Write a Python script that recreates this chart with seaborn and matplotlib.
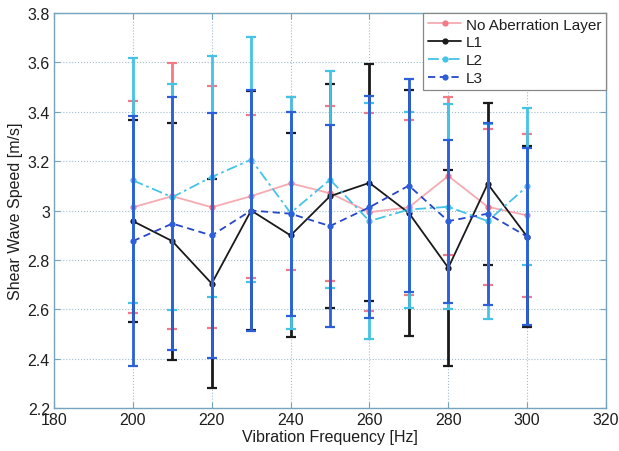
import matplotlib
matplotlib.use("Agg")
import matplotlib.pyplot as plt
import seaborn as sns
import pandas as pd

freq = [200, 210, 220, 230, 240, 250, 260, 270, 280, 290, 300]

no_ab = [3.013, 3.058, 3.013, 3.058, 3.110, 3.070, 2.993, 3.013, 3.140, 3.015, 2.980]
no_ab_err = [0.43, 0.54, 0.49, 0.33, 0.35, 0.355, 0.40, 0.355, 0.32, 0.315, 0.33]

l1 = [2.957, 2.876, 2.704, 3.000, 2.899, 3.058, 3.112, 2.990, 2.768, 3.108, 2.894]
l1_err = [0.41, 0.48, 0.425, 0.485, 0.413, 0.453, 0.48, 0.497, 0.398, 0.329, 0.367]

l2 = [3.122, 3.054, 3.136, 3.206, 2.990, 3.125, 2.957, 3.004, 3.015, 2.957, 3.098]
l2_err = [0.496, 0.458, 0.488, 0.495, 0.47, 0.439, 0.477, 0.397, 0.415, 0.395, 0.317]

l3 = [2.876, 2.947, 2.899, 3.000, 2.987, 2.937, 3.013, 3.101, 2.957, 2.987, 2.894]
l3_err = [0.507, 0.512, 0.497, 0.488, 0.413, 0.41, 0.45, 0.431, 0.33, 0.368, 0.358]

labels = ["No Aberration Layer", "L1", "L2", "L3"]
x_ticks = [180, 200, 220, 240, 260, 280, 300, 320]
y_ticks = [2.2, 2.4, 2.6, 2.8, 3.0, 3.2, 3.4, 3.6, 3.8]
y_ticklabels = ["2.2", "2.4", "2.6", "2.8", "3", "3.2", "3.4", "3.6", "3.8"]

sns.set_theme(style="white")
plt.rcParams["font.family"] = ["Liberation Sans", "DejaVu Sans"]

fig = plt.figure(figsize=(6.19, 4.52), dpi=100)
ax = fig.add_axes([54 / 619, 1 - 409 / 452, (606 - 54) / 619, (409 - 14) / 452])

series = [
    (no_ab, no_ab_err, labels[0], "#f6aab2", "#f27a84", "-"),
    (l1, l1_err, labels[1], "#1a1a1a", "#1a1a1a", "-"),
    (l2, l2_err, labels[2], "#45c3e6", "#45c3e6", (0, (6, 2, 1.5, 2))),
    (l3, l3_err, labels[3], "#2746c8", "#2c5fd8", (0, (4, 2.5))),
]

handles = []
for vals, errs, lab, lc, ec, ls in series:
    df = pd.DataFrame({"freq": freq, "speed": vals})
    sns.lineplot(data=df, x="freq", y="speed", ax=ax, color=lc, linestyle=ls,
                 linewidth=1.3, marker="o", markersize=4.5, markeredgewidth=0,
                 markerfacecolor=ec, label=lab, legend=False)
    handles.append(ax.lines[-1])
    ax.errorbar(freq, vals, yerr=errs, fmt="none", ecolor=ec, elinewidth=2.0,
                capsize=3.3, capthick=1.6)

ax.set_xlim(180, 320)
ax.set_ylim(2.2, 3.8)
ax.set_xticks(x_ticks)
ax.set_xticklabels([str(t) for t in x_ticks])
ax.set_yticks(y_ticks)
ax.set_yticklabels(y_ticklabels)

spine_c = "#74a4c0"
for s in ax.spines.values():
    s.set_color(spine_c)
    s.set_linewidth(1.0)
ax.grid(True, linestyle=":", color="#9fbccd", linewidth=0.8)
ax.tick_params(direction="in", length=4, width=0.8, color=spine_c,
               labelsize=11.5, labelcolor="#1e1e1e", top=True, right=True,
               bottom=True, left=True, pad=3)
ax.set_xlabel("Vibration Frequency [Hz]", fontsize=11.5, color="#1e1e1e", labelpad=1)
ax.set_ylabel("Shear Wave Speed [m/s]", fontsize=11.5, color="#1e1e1e", labelpad=3)

leg = ax.legend(handles=handles, labels=labels, loc="upper right",
                borderaxespad=0.0, fancybox=False, framealpha=1.0,
                edgecolor="#888888", fontsize=11, handlelength=2.2,
                handletextpad=0.3, labelspacing=0.25, borderpad=0.3)
leg.get_frame().set_linewidth(0.9)
for t in leg.get_texts():
    t.set_color("#1e1e1e")

fig.savefig("out.png", dpi=100)
